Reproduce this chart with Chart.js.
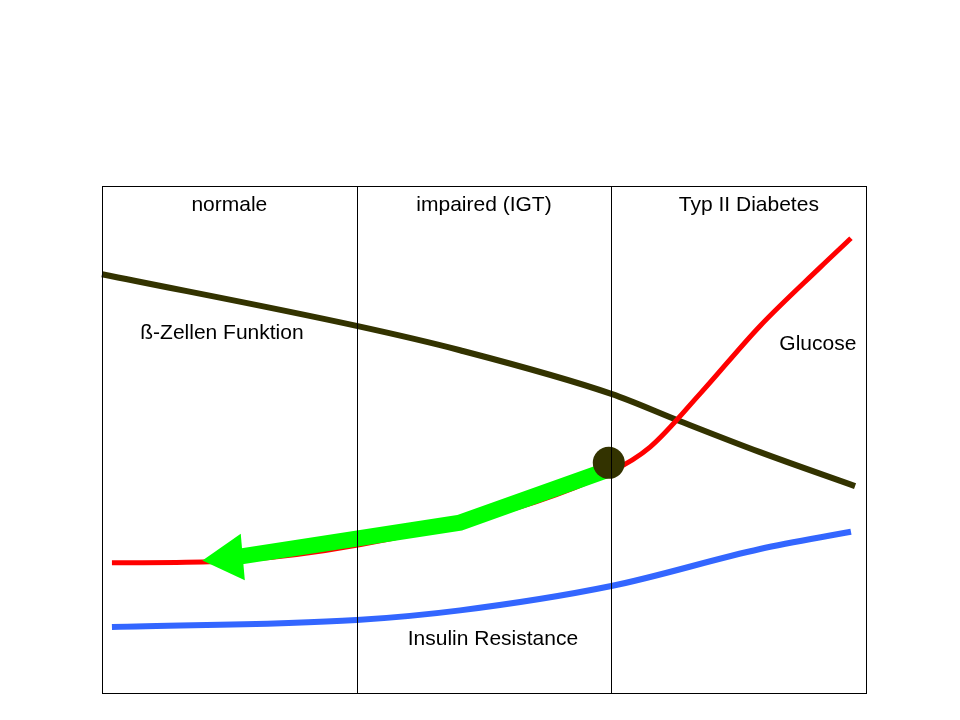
<!DOCTYPE html>
<html>
<head>
<meta charset="utf-8">
<script src="https://cdn.jsdelivr.net/npm/chart.js@4"></script>
<style>
  body { margin: 0; background: #fff; }
  #wrap { width: 960px; height: 720px; }
</style>
</head>
<body>
<div id="wrap"><canvas id="chart"></canvas></div>
<script>
// Schematic: three stages, curves (x: 0..3 stages, y: 0..100)
const stageLabels = ['normale', 'impaired (IGT)', 'Typ II Diabetes'];
const betaCell = [[0, 82.6], [1.0, 72.4], [1.406, 67.6], [2.0, 59.0], [2.27, 53.6], [2.584, 47.5], [2.957, 40.8]];
const glucose = [[0.039, 25.7], [0.424, 25.9], [1.406, 33.5], [2.0, 43.7], [2.152, 48.5], [2.348, 59.0], [2.584, 72.4], [2.819, 83.9], [2.941, 89.7]];
const insulinRes = [[0.039, 13.0], [1.0, 14.4], [1.406, 16.3], [2.0, 21.1], [2.584, 28.4], [2.941, 31.8]];
const arrowPath = [[1.99, 44.1], [1.406, 33.6], [0.54, 26.9]];
const arrowTip = [[0.5, 26.6]];
const junction = [[1.99, 45.4]];
const curveLabels = [
  { text: 'ß-Zellen Funktion', x: 0.471, y: 70.9 },
  { text: 'Glucose', x: 2.811, y: 68.8 },
  { text: 'Insulin Resistance', x: 1.535, y: 10.6 }
];

const toXY = arr => arr.map(p => ({ x: p[0], y: p[1] }));

const framePlugin = {
  id: 'frame',
  afterDatasetsDraw(chart) {
    const { ctx, chartArea: a, scales: { x, y } } = chart;
    ctx.save();
    ctx.strokeStyle = '#000';
    ctx.lineWidth = 1;
    ctx.strokeRect(a.left + 0.5, a.top + 0.5, a.width, a.height);
    [1, 2].forEach(v => {
      const px = Math.round(x.getPixelForValue(v)) + 0.5;
      ctx.beginPath();
      ctx.moveTo(px, a.top);
      ctx.lineTo(px, a.bottom);
      ctx.stroke();
    });
    ctx.fillStyle = '#000';
    ctx.font = '21px "Liberation Sans", Arial, sans-serif';
    ctx.textAlign = 'center';
    ctx.textBaseline = 'middle';
    stageLabels.forEach((t, i) => {
      const cx = i === 2 ? x.getPixelForValue(2.54) : x.getPixelForValue(i + 0.5);
      ctx.fillText(t, cx, a.top + 19);
    });
    curveLabels.forEach(l => ctx.fillText(l.text, x.getPixelForValue(l.x), y.getPixelForValue(l.y)));
    ctx.restore();
  }
};

new Chart(document.getElementById('chart'), {
  type: 'line',
  data: {
    datasets: [
      { data: toXY(junction), showLine: false, pointRadius: 16, pointBackgroundColor: '#333300', pointBorderWidth: 0, order: 0 },
      { data: toXY(arrowTip), showLine: false, pointStyle: 'triangle', rotation: 265, pointRadius: 27, pointBackgroundColor: '#00ff00', pointBorderWidth: 0, order: 1 },
      { data: toXY(arrowPath), borderColor: '#00ff00', borderWidth: 16, pointRadius: 0, tension: 0, order: 2 },
      { data: toXY(glucose), borderColor: '#ff0000', borderWidth: 5, pointRadius: 0, cubicInterpolationMode: 'monotone', order: 3 },
      { data: toXY(betaCell), borderColor: '#333300', borderWidth: 6, pointRadius: 0, cubicInterpolationMode: 'monotone', order: 4 },
      { data: toXY(insulinRes), borderColor: '#3366ff', borderWidth: 6, pointRadius: 0, cubicInterpolationMode: 'monotone', order: 5 }
    ]
  },
  options: {
    responsive: true,
    maintainAspectRatio: false,
    animation: false,
    layout: { padding: { left: 102, right: 94, top: 186, bottom: 0 } },
    plugins: { legend: { display: false }, tooltip: { enabled: false } },
    scales: {
      x: { type: 'linear', min: 0, max: 3, display: false },
      y: { min: 0, max: 100, display: false }
    },
    clip: false
  },
  plugins: [framePlugin]
});
</script>
</body>
</html>
